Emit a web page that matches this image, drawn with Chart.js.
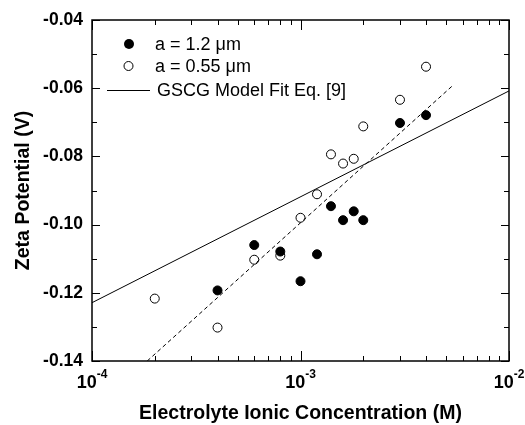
<!DOCTYPE html>
<html lang="en">
<head>
<meta charset="UTF-8">
<title>Zeta Potential vs Electrolyte Ionic Concentration</title>
<script src="https://cdn.jsdelivr.net/npm/chart.js"></script>
<style>
  html, body { margin: 0; padding: 0; background: #fff; }
  #wrap { width: 525px; height: 425px; }
</style>
</head>
<body>
<div id="wrap"><canvas id="zetaChart"></canvas></div>
<script>
// measured points, concentration in M, zeta in V
const concLarge = [4e-4, 6e-4, 8e-4, 1e-3, 1.2e-3, 1.4e-3, 1.6e-3, 1.8e-3, 2e-3, 3e-3, 4e-3];
const zetaLarge = [-0.1193, -0.1060, -0.1079, -0.1166, -0.1087, -0.0946, -0.0987, -0.0961, -0.0987, -0.0702, -0.0679];
const concSmall = [2e-4, 4e-4, 6e-4, 8e-4, 1e-3, 1.2e-3, 1.4e-3, 1.6e-3, 1.8e-3, 2e-3, 3e-3, 4e-3];
const zetaSmall = [-0.1217, -0.1302, -0.1103, -0.1091, -0.0980, -0.0911, -0.0794, -0.0821, -0.0807, -0.0712, -0.0634, -0.0537];

// model fit (solid) and trend line (dashed)
const fitConc = [1e-4, 1e-2];
const fitZeta = [-0.1229, -0.0608];
const trendConc = [1.84e-4, 5.4e-3];
const trendZeta = [-0.14, -0.0591];

// axis labels
const xTickVals = [1e-4, 1e-3, 1e-2];
const xTickExp = ['-4', '-3', '-2'];
const yTickVals = [-0.14, -0.12, -0.10, -0.08, -0.06, -0.04];

const legendLabels = ['a = 1.2 \u03bcm', 'a = 0.55 \u03bcm', 'GSCG Model Fit Eq. [9]'];

const toPts = (xs, ys) => xs.map((x, i) => ({ x: x, y: ys[i] }));
const FONT = '"Liberation Sans", Arial, sans-serif';

// axes frame, inside ticks, labels and legend
const framePlugin = {
    id: 'frame',
    afterDraw(chart) {
        const ctx = chart.ctx;
        const a = chart.chartArea;
        const xs = chart.scales.x, ys = chart.scales.y;
        ctx.save();
        ctx.strokeStyle = '#000';
        ctx.fillStyle = '#000';

        // x ticks (top and bottom)
        ctx.lineWidth = 1;
        for (let d = -4; d < -2; d++) {
            for (let m = 1; m <= 10; m++) {
                const v = m * Math.pow(10, d);
                const px = Math.round(xs.getPixelForValue(v)) + 0.5;
                const len = (m === 1 || m === 10) ? 10 : 5;
                ctx.beginPath();
                ctx.moveTo(px, a.bottom); ctx.lineTo(px, a.bottom - len);
                ctx.moveTo(px, a.top); ctx.lineTo(px, a.top + len);
                ctx.stroke();
            }
        }
        // y ticks (left and right)
        for (let k = 0; k <= 10; k++) {
            const v = -0.14 + k * 0.01;
            const py = Math.round(ys.getPixelForValue(v)) + 0.5;
            const len = (k % 2 === 0) ? 8 : 5;
            ctx.beginPath();
            ctx.moveTo(a.left, py); ctx.lineTo(a.left + len, py);
            ctx.moveTo(a.right, py); ctx.lineTo(a.right - len, py);
            ctx.stroke();
        }

        // frame
        ctx.lineWidth = 1.5;
        ctx.strokeRect(a.left, a.top, a.right - a.left, a.bottom - a.top);

        // y tick labels
        ctx.font = 'bold 17.5px ' + FONT;
        ctx.textAlign = 'right';
        ctx.textBaseline = 'middle';
        yTickVals.forEach(v => {
            ctx.fillText(v.toFixed(2), a.left - 9, ys.getPixelForValue(v));
        });

        // x tick labels 10^n
        xTickVals.forEach((v, i) => {
            const px = xs.getPixelForValue(v);
            ctx.font = 'bold 18px ' + FONT;
            const wb = ctx.measureText('10').width;
            ctx.font = 'bold 12px ' + FONT;
            const we = ctx.measureText(xTickExp[i]).width;
            const x0 = px - (wb + we) / 2;
            ctx.textAlign = 'left';
            ctx.textBaseline = 'alphabetic';
            ctx.font = 'bold 18px ' + FONT;
            ctx.fillText('10', x0, a.bottom + 27);
            ctx.font = 'bold 12px ' + FONT;
            ctx.fillText(xTickExp[i], x0 + wb, a.bottom + 17);
        });

        // axis titles
        ctx.font = 'bold 19.5px ' + FONT;
        ctx.textAlign = 'center';
        ctx.textBaseline = 'middle';
        ctx.fillText('Electrolyte Ionic Concentration (M)', (a.left + a.right) / 2, 414);
        ctx.save();
        ctx.translate(24, (a.top + a.bottom) / 2);
        ctx.rotate(-Math.PI / 2);
        ctx.fillText('Zeta Potential (V)', 0, 0);
        ctx.restore();

        // legend
        ctx.font = '18px ' + FONT;
        ctx.textAlign = 'left';
        ctx.lineWidth = 1;
        ctx.beginPath();
        ctx.arc(129, 44, 5, 0, Math.PI * 2);
        ctx.fill();
        ctx.fillText(legendLabels[0], 155, 45);
        ctx.beginPath();
        ctx.arc(128.5, 66, 4.5, 0, Math.PI * 2);
        ctx.fillStyle = '#fff';
        ctx.fill();
        ctx.stroke();
        ctx.fillStyle = '#000';
        ctx.fillText(legendLabels[1], 155, 67);
        ctx.beginPath();
        ctx.moveTo(107, 90.5); ctx.lineTo(150, 90.5);
        ctx.stroke();
        ctx.fillText(legendLabels[2], 157, 91);

        ctx.restore();
    }
};

const chart = new Chart(document.getElementById('zetaChart'), {
    type: 'scatter',
    data: {
        datasets: [
            {
                label: legendLabels[2],
                data: toPts(fitConc, fitZeta),
                showLine: true,
                borderColor: '#000',
                borderWidth: 1,
                pointRadius: 0
            },
            {
                label: 'trend',
                data: toPts(trendConc, trendZeta),
                showLine: true,
                borderColor: '#000',
                borderWidth: 1,
                borderDash: [4, 3],
                pointRadius: 0
            },
            {
                label: legendLabels[0],
                data: toPts(concLarge, zetaLarge),
                pointRadius: 4.5,
                pointBackgroundColor: '#000',
                pointBorderColor: '#000',
                pointBorderWidth: 1
            },
            {
                label: legendLabels[1],
                data: toPts(concSmall, zetaSmall),
                pointRadius: 4.5,
                pointBackgroundColor: '#fff',
                pointBorderColor: '#000',
                pointBorderWidth: 1
            }
        ]
    },
    options: {
        responsive: true,
        maintainAspectRatio: false,
        animation: false,
        layout: { padding: { left: 92, top: 20, right: 16, bottom: 64 } },
        plugins: { legend: { display: false }, tooltip: { enabled: false } },
        scales: {
            x: { type: 'logarithmic', min: 1e-4, max: 1e-2, display: false },
            y: { type: 'linear', min: -0.14, max: -0.04, display: false }
        }
    },
    plugins: [framePlugin]
});
</script>
</body>
</html>
